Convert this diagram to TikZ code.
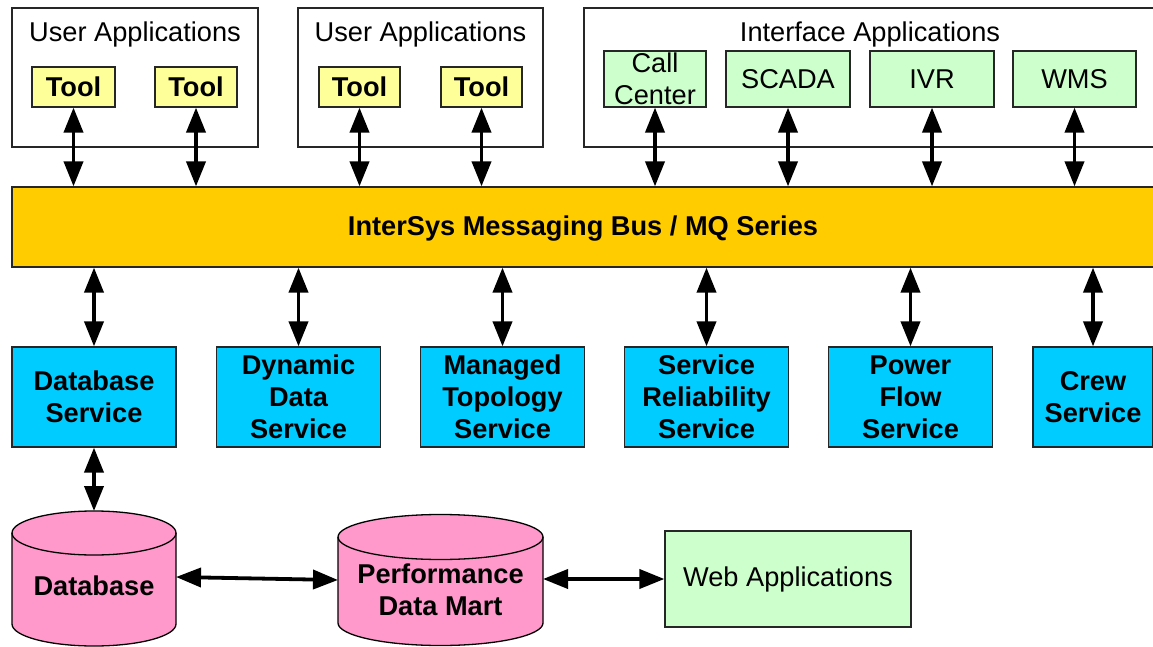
\documentclass[tikz,border=0pt]{standalone}
\usepackage{fontspec}
\setmainfont{Liberation Sans}
\usetikzlibrary{arrows.meta}
\definecolor{toolyellow}{HTML}{FFFF99}
\definecolor{appgreen}{HTML}{CCFFCC}
\definecolor{svcblue}{HTML}{00CCFF}
\definecolor{dbpink}{HTML}{FF99CC}
\definecolor{busorange}{HTML}{FFCC00}
\newcommand{\dfont}{\fontsize{27.2}{32}\selectfont}
\tikzset{
  base/.style={draw=black!85, line width=1.2pt, inner sep=0pt, align=center, font=\dfont},
  groupbox/.style={base, fill=white},
  toolbox/.style={base, fill=toolyellow, font=\dfont\bfseries, minimum height=40pt},
  appbox/.style={base, fill=appgreen, minimum height=56pt},
  svcbox/.style={base, fill=svcblue, font=\dfont\bfseries, minimum width=164pt, minimum height=100pt},
  busbox/.style={base, fill=busorange},
  cyl/.style={draw=black, line width=1.3pt, fill=dbpink},
  label/.style={inner sep=0pt, align=center, font=\dfont},
  boldlabel/.style={label, font=\dfont\bfseries},
  biarrow/.style={line width=3.8pt, {Triangle[length=25pt,width=19pt]}-{Triangle[length=25pt,width=19pt]}},
}
\begin{document}
\begin{tikzpicture}[x=1pt,y=1pt]
\useasboundingbox (0,0) rectangle (1153,646);
\clip (0,0) rectangle (1153,646);

% group boxes
\node[groupbox, minimum width=246pt, minimum height=139pt] (ua1) at (135,568.5) {};
\node[label] (ua1t) at (135,612) {User Applications};
\node[groupbox, minimum width=245pt, minimum height=139pt] (ua2) at (420.5,568.5) {};
\node[label] (ua2t) at (420.5,612) {User Applications};
\node[groupbox, minimum width=576pt, minimum height=139pt] (ia) at (872,568.5) {};
\node[label] (iat) at (870,612) {Interface Applications};

% tools
\node[toolbox, minimum width=83pt] (tool1) at (73.5,559) {Tool};
\node[toolbox, minimum width=82pt] (tool2) at (196,559) {Tool};
\node[toolbox, minimum width=81pt] (tool3) at (359.5,559) {Tool};
\node[toolbox, minimum width=81pt] (tool4) at (481.5,559) {Tool};

% interface apps
\node[appbox, minimum width=102pt] (call) at (655,567) {Call\\Center};
\node[appbox, minimum width=124pt] (scada) at (788,567) {SCADA};
\node[appbox, minimum width=124pt] (ivr) at (932,567) {IVR};
\node[appbox, minimum width=123pt] (wms) at (1074.5,567) {WMS};

% bus
\node[busbox, minimum width=1150pt, minimum height=80pt] (bus) at (587,419) {};
\node[boldlabel] (bust) at (583,417) {InterSys Messaging Bus / MQ Series};

% services
\node[svcbox] (dbs) at (94,249) {Database\\Service};
\node[svcbox] (dds) at (298.5,249) {Dynamic\\Data\\Service};
\node[svcbox] (mts) at (502.5,249) {Managed\\Topology\\Service};
\node[svcbox] (srs) at (706.5,249) {Service\\Reliability\\Service};
\node[svcbox] (pfs) at (910.5,249) {Power\\Flow\\Service};
\node[svcbox, minimum width=120pt] (crew) at (1093,249) {Crew\\Service};

% database cylinder
\filldraw[cyl] (12,113) -- (12,22) arc[start angle=180, end angle=360, x radius=82pt, y radius=22pt] -- (176,113) arc[start angle=0, end angle=180, x radius=82pt, y radius=22pt] -- cycle;
\draw[cyl, fill=none] (12,113) arc[start angle=180, end angle=360, x radius=82pt, y radius=22pt];
\node[boldlabel] (db) at (94,60) {Database};
\coordinate (dbtop) at (94,135);
\coordinate (dbright) at (176,69);

% performance data mart cylinder
\filldraw[cyl] (338,109) -- (338,23) arc[start angle=180, end angle=360, x radius=102.5pt, y radius=22.5pt] -- (543,109) arc[start angle=0, end angle=180, x radius=102.5pt, y radius=22.5pt] -- cycle;
\draw[cyl, fill=none] (338,109) arc[start angle=180, end angle=360, x radius=102.5pt, y radius=22.5pt];
\node[boldlabel] (pdm) at (440.5,56) {Performance\\Data Mart};
\coordinate (pdmleft) at (338,66);
\coordinate (pdmright) at (543,67);

% web applications
\node[base, fill=appgreen, minimum width=246pt, minimum height=96pt] (web) at (788,67) {Web Applications};

% connectors: top
\foreach \n in {tool1,tool2,tool3,tool4,call,scada,ivr,wms}
  \draw[biarrow] (\n.south) -- (\n.south |- bus.north);
% connectors: services
\foreach \n in {dbs,dds,mts,srs,pfs,crew}
  \draw[biarrow] (\n.north |- bus.south) -- (\n.north);
% bottom
\draw[biarrow] (dbs.south) -- (dbtop);
\draw[biarrow] (dbright) -- (pdmleft);
\draw[biarrow] (pdmright) -- (web.west);
\end{tikzpicture}
\end{document}
